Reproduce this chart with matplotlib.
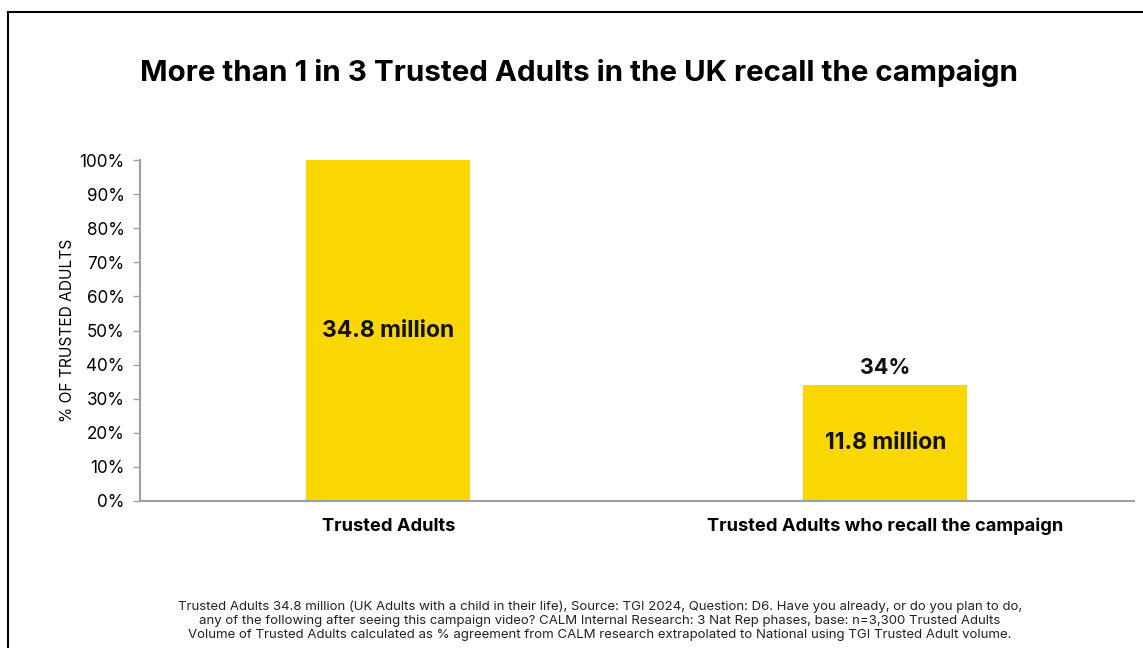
import matplotlib.pyplot as plt
from matplotlib.lines import Line2D
from matplotlib.ticker import PercentFormatter

# Trusted Adults vs those who recall the campaign
categories = ["Trusted Adults", "Trusted Adults who recall the campaign"]
share = [100, 34]
volume_labels = ["34.8 million", "11.8 million"]
volume_label_y = [50, 17]
top_labels = ["", "34%"]

YELLOW = "#FAD700"
GREY = "#A0A0A0"

fig = plt.figure(figsize=(11.43, 6.48), dpi=100)
ax = fig.add_axes([0.1225, 0.2269, 0.8695, 0.5261])

x = list(range(len(categories)))
ax.bar(x, share, width=0.33, color=YELLOW, zorder=2)

for xi, lab, ly in zip(x, volume_labels, volume_label_y):
    ax.text(xi, ly, lab, ha="center", va="center", fontsize=16.5,
            fontweight="bold", family="Inter", color="#111111")
for xi, val, lab in zip(x, share, top_labels):
    if lab:
        ax.text(xi, val + 2, lab, ha="center", va="bottom", fontsize=15.5,
                fontweight="bold", family="Inter", color="#111111")

ax.set_xlim(-0.5, 1.5)
ax.set_ylim(0, 100)
ax.set_yticks(range(0, 101, 10))
ax.yaxis.set_major_formatter(PercentFormatter(decimals=0))
ax.set_xticks(x)
ax.set_xticklabels(categories, fontsize=13.2, fontweight="bold", family="Inter")
for t in ax.get_yticklabels():
    t.set_family("Inter")
    t.set_fontsize(12.3)
ax.tick_params(axis="x", length=0, pad=12)
ax.tick_params(axis="y", length=5, color=GREY, width=1, pad=6)

for s in ["top", "right"]:
    ax.spines[s].set_visible(False)
for s in ["left", "bottom"]:
    ax.spines[s].set_color(GREY)
    ax.spines[s].set_linewidth(1.5)

ax.set_ylabel("% OF TRUSTED ADULTS", fontsize=11.2, family="Inter", labelpad=3)

fig.text(0.5066, 0.888, "More than 1 in 3 Trusted Adults in the UK recall the campaign",
         ha="center", va="center", fontsize=21.3, fontweight="bold", family="Inter")

footnote = ("Trusted Adults 34.8 million (UK Adults with a child in their life), Source: TGI 2024, Question: D6. Have you already, or do you plan to do,\n"
            "any of the following after seeing this campaign video? CALM Internal Research: 3 Nat Rep phases, base: n=3,300 Trusted Adults\n"
            "Volume of Trusted Adults calculated as % agreement from CALM research extrapolated to National using TGI Trusted Adult volume.")
fig.text(0.525, 0.042, footnote, ha="center", va="center", fontsize=9.5,
         family="Inter", linespacing=1.2, color="#222222")

# outer frame (top and left edges)
fig.add_artist(Line2D([8 / 1143, 1], [1 - 12 / 648, 1 - 12 / 648], color="black", lw=1.5))
fig.add_artist(Line2D([8 / 1143, 8 / 1143], [0, 1 - 12 / 648], color="black", lw=1.5))

fig.savefig("out.png", dpi=100)
